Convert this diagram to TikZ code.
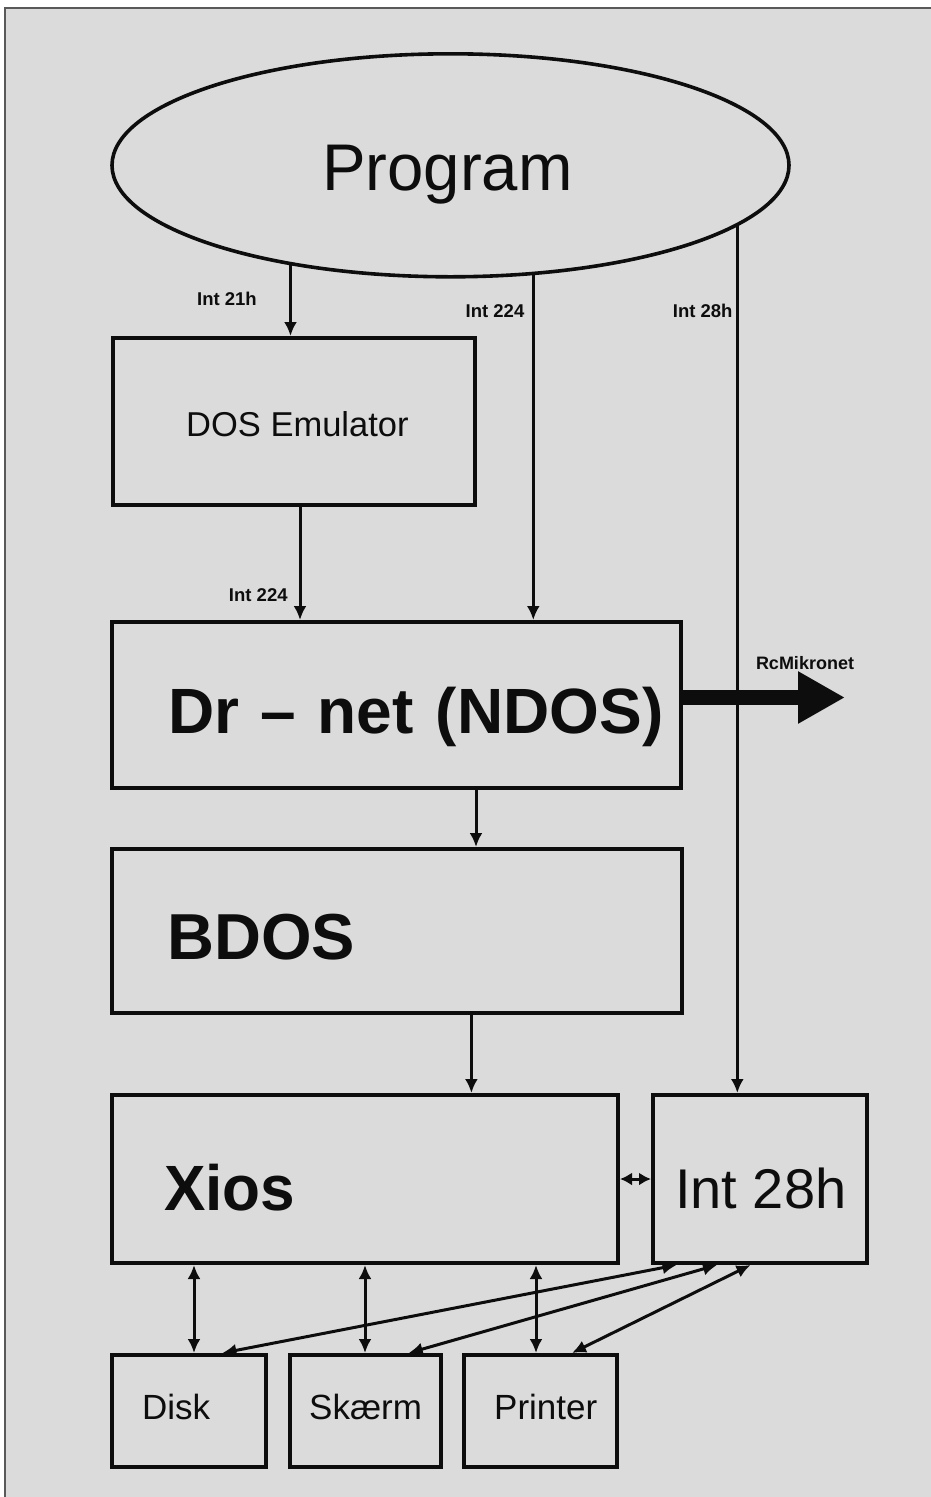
\documentclass[tikz,border=0pt]{standalone}
\usepackage{fontspec}
\setmainfont{Liberation Sans}
\usetikzlibrary{shapes.geometric,arrows.meta}
\definecolor{paper}{gray}{0.86}
\definecolor{ink}{gray}{0.05}
\definecolor{rulec}{gray}{0.35}
\newcommand\fs[1]{\fontsize{#1}{#1}\selectfont}
\tikzset{
  box/.style={draw=ink, line width=3.8pt, rectangle, inner sep=0pt},
  txt/.style={inner sep=0pt, text=ink, anchor=base west},
  lab/.style={inner sep=0pt, text=ink, anchor=base east, font=\fs{18.5}\bfseries},
  arr/.style={draw=ink, line width=3pt, -{Latex[length=14pt,width=13pt]}},
  darr/.style={draw=ink, line width=3pt, {Latex[length=14pt,width=13pt]}-{Latex[length=14pt,width=13pt]}},
  sarr/.style={draw=ink, line width=3pt, {Latex[length=12pt,width=13pt]}-{Latex[length=12pt,width=13pt]}},
  bigarr/.style={draw=ink, line width=15pt, -{Triangle[length=47pt,width=49pt]}},
}
\begin{document}
\begin{tikzpicture}[x=1pt,y=-1pt]
\useasboundingbox (0,0) rectangle (931,1497);
\fill[white] (0,0) rectangle (931,1497);
\fill[paper] (5,8) rectangle (931,1497);
\draw[rulec, line width=1.5pt] (5,1497) -- (5,8) -- (931,8);

% nodes
\node[ellipse, draw=ink, line width=3.6pt, minimum width=677pt, minimum height=223pt, inner sep=0pt] (prog) at (450.5,165.3) {};
\node[txt, font=\fs{66}] (progT) at (322,190) {\scalebox{0.99}[1]{Program}};

\node[box, minimum width=361.7pt, minimum height=167.2pt] (dos) at (293.75,421.5) {};
\node[txt, font=\fs{34.5}] (dosT) at (186,436) {DOS Emulator};

\node[box, minimum width=569.2pt, minimum height=166.2pt] (drnet) at (396.5,705) {};
\node[txt, font=\fs{64}\bfseries] (drnetT) at (168,733) {Dr\hspace{21pt}–\hspace{22pt}net\hspace{22pt}(NDOS)};

\node[box, minimum width=570.2pt, minimum height=164.2pt] (bdos) at (397,931) {};
\node[txt, font=\fs{65}\bfseries] (bdosT) at (167,959) {BDOS};

\node[box, minimum width=506.2pt, minimum height=168.2pt] (xios) at (365,1179) {};
\node[txt, font=\fs{64}\bfseries] (xiosT) at (164,1210) {\scalebox{0.97}[1]{Xios}};

\node[box, minimum width=214.2pt, minimum height=168.2pt] (i28) at (760,1179) {};
\node[txt, font=\fs{56}] (i28T) at (675,1208) {Int 28h};

\node[box, minimum width=154.2pt, minimum height=112.2pt] (disk) at (189,1411) {};
\node[txt, font=\fs{35}] (diskT) at (142,1419) {Disk};
\node[box, minimum width=151.2pt, minimum height=112.2pt] (skaerm) at (365.5,1411) {};
\node[txt, font=\fs{35}] (skaermT) at (309,1419) {Skærm};
\node[box, minimum width=153.2pt, minimum height=112.2pt] (printer) at (540.5,1411) {};
\node[txt, font=\fs{35}] (printerT) at (494,1419) {Printer};

% labels
\node[lab] (l21) at (257,305.7) {Int 21h};
\node[lab] (l224a) at (524.5,317) {Int 224};
\node[lab] (l28) at (732.7,317) {Int 28h};
\node[lab] (l224b) at (287.8,601.7) {Int 224};
\node[inner sep=0pt, text=ink, anchor=base, font=\fs{18}\bfseries] (lrc) at (805,669) {RcMikronet};

% helper coordinates
\coordinate (xa) at (300,0);
\coordinate (xb) at (476,0);
\coordinate (xc) at (471.4,0);
\coordinate (xd) at (194,0);
\coordinate (xe) at (365,0);
\coordinate (xf) at (536,0);
\coordinate (ta) at (676.5,0);
\coordinate (tb) at (717,0);
\coordinate (tc) at (750.5,0);
\coordinate (ba) at (222.4,0);
\coordinate (bb) at (408.7,0);
\coordinate (bc) at (572,0);
\coordinate (yrc) at (0,697.5);
\coordinate (rcend) at (845,697.5);

% connectors
\draw[arr] (prog.-148.5) -- (prog.-148.5 |- dos.north);
\draw[arr] (prog.-53.1) -- (prog.-53.1 |- drnet.north);
\draw[arr] (prog.-12.0) -- (prog.-12.0 |- i28.north);
\draw[arr] (dos.south -| xa) -- (drnet.north -| xa);
\draw[arr] (drnet.south -| xb) -- (bdos.north -| xb);
\draw[arr] (bdos.south -| xc) -- (xios.north -| xc);
\draw[bigarr] (drnet.east |- yrc) -- (rcend);
\draw[sarr] (xios.east) -- (i28.west);
\draw[darr] (xios.south -| xd) -- (disk.north -| xd);
\draw[darr] (xios.south -| xe) -- (skaerm.north -| xe);
\draw[darr] (xios.south -| xf) -- (printer.north -| xf);
\draw[darr] (i28.south -| ta) -- (disk.north -| ba);
\draw[darr] (i28.south -| tb) -- (skaerm.north -| bb);
\draw[darr] (i28.south -| tc) -- (printer.north -| bc);
\end{tikzpicture}
\end{document}
